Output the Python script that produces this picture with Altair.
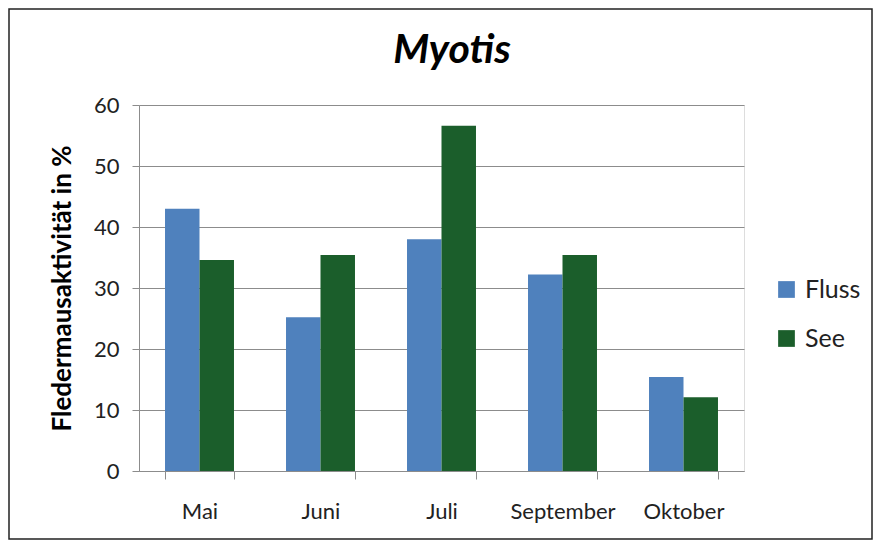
import altair as alt
import pandas as pd

months = ["Mai", "Juni", "Juli", "September", "Oktober"]
series = ["Fluss", "See"]
fluss = [43.0, 25.2, 38.0, 32.2, 15.4]
see = [34.6, 35.4, 56.6, 35.4, 12.1]
y_ticks = [0, 10, 20, 30, 40, 50, 60]
colors = ["#4F81BD", "#1B5E2B"]
chart_title = "Myotis"

rows = []
for m, f, s in zip(months, fluss, see):
    rows.append({"Monat": m, "Serie": "Fluss", "Wert": f})
    rows.append({"Monat": m, "Serie": "See", "Wert": s})
df = pd.DataFrame(rows)

FONT = "Lato"
W, H = 605, 366

bars = alt.Chart(df).mark_bar().encode(
    x=alt.X("Monat:N", sort=months,
            scale=alt.Scale(paddingInner=0.43, paddingOuter=0.215),
            axis=alt.Axis(title=None, labelAngle=0, tickBand="extent", tickSize=8,
                          labelPadding=22, labelFontSize=22, labelColor="#222222",
                          domainColor="#8c8c8c", tickColor="#8c8c8c", grid=False,
                          labelFont=FONT)),
    xOffset=alt.XOffset("Serie:N", sort=series),
    y=alt.Y("Wert:Q", scale=alt.Scale(domain=[0, 60], nice=False),
            axis=alt.Axis(title="Fledermausaktivität in %", values=y_ticks,
                          tickSize=7, labelPadding=13, labelFontSize=22,
                          labelColor="#222222", titleFontSize=26, titleFont=FONT,
                          titleFontWeight="bold", titleColor="#000000",
                          titlePadding=18, domainColor="#8c8c8c", tickColor="#8c8c8c",
                          gridColor="#8c8c8c", labelFont=FONT)),
    color=alt.Color("Serie:N", sort=series,
                    scale=alt.Scale(domain=series, range=colors),
                    legend=alt.Legend(title=None, orient="none", legendX=635, legendY=172,
                                      symbolType="square", symbolSize=280,
                                      symbolStrokeWidth=0, labelFontSize=25,
                                      labelFont=FONT, labelColor="#222222",
                                      rowPadding=23, labelOffset=6)),
)

title = alt.Chart(alt.Data(values=[{"t": chart_title}])).mark_text(
    font=FONT, fontSize=41, fontWeight="bold", fontStyle="italic", color="#000000",
    align="center", baseline="alphabetic"
).encode(text="t:N", x=alt.value(313), y=alt.value(-42))

border = alt.Chart(alt.Data(values=[{}])).mark_rect(
    fill="transparent", stroke="#222222", strokeWidth=1.5, clip=False
).encode(
    x=alt.value(-130), x2=alt.value(733), y=alt.value(-96), y2=alt.value(434)
)

chart = alt.layer(bars, title, border).properties(
    width=W, height=H,
    autosize=alt.AutoSizeParams(type="none"),
    padding={"left": 131, "top": 97, "right": 129, "bottom": 69},
).configure_view(stroke=None).configure(background="white")

chart.save("out.html", embed_options={"renderer": "svg", "actions": False})
